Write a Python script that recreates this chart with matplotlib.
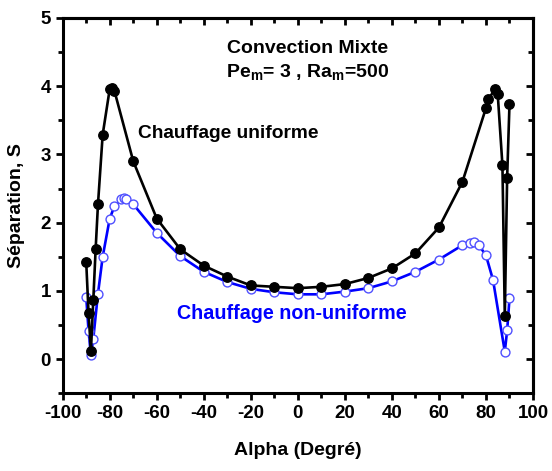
import matplotlib
matplotlib.use("Agg")
import matplotlib.pyplot as plt
from matplotlib.ticker import MultipleLocator

plt.rcParams['font.family'] = ['Liberation Sans', 'DejaVu Sans']
plt.rcParams['font.weight'] = 'bold'
plt.rcParams['axes.unicode_minus'] = False
plt.rcParams['mathtext.fontset'] = 'custom'
plt.rcParams['mathtext.rm'] = 'Liberation Sans'
plt.rcParams['mathtext.bf'] = 'Liberation Sans:bold'

# Uniform heating
alpha_u = [-90, -89, -88, -87, -86, -85, -83, -80, -79, -78, -70, -60, -50, -40,
           -30, -20, -10, 0, 10, 20, 30, 40, 50, 60, 70, 80, 81, 84, 85, 87, 88, 89, 90]
sep_u = [1.42, 0.67, 0.12, 0.86, 1.61, 2.27, 3.29, 3.96, 3.97, 3.93, 2.90, 2.06, 1.61, 1.37,
         1.21, 1.08, 1.06, 1.04, 1.06, 1.10, 1.19, 1.33, 1.55, 1.93, 2.60, 3.68, 3.81, 3.96,
         3.88, 2.84, 0.63, 2.66, 3.74]

# Non-uniform heating
alpha_n = [-90, -89, -88, -87, -85, -83, -80, -78, -75, -74, -73, -70, -60, -50, -40,
           -30, -20, -10, 0, 10, 20, 30, 40, 50, 60, 70, 73, 75, 77, 80, 83, 88, 89, 90]
sep_n = [0.91, 0.41, 0.06, 0.30, 0.96, 1.50, 2.06, 2.24, 2.35, 2.36, 2.34, 2.27, 1.85, 1.51,
         1.28, 1.13, 1.03, 0.98, 0.95, 0.95, 0.99, 1.04, 1.14, 1.28, 1.46, 1.67, 1.70, 1.71,
         1.67, 1.52, 1.16, 0.11, 0.42, 0.89]

fig = plt.figure(figsize=(5.52, 4.71), dpi=100)
ax = fig.add_axes([0.1136, 0.165, 0.852, 0.797])

ax.plot(alpha_n, sep_n, color='#0000ff', lw=1.9, marker='o', ms=6.4,
        mfc='white', mec='#5050ff', mew=1.0, zorder=3)
ax.plot(alpha_u, sep_u, color='black', lw=1.9, marker='o', ms=6.8,
        mfc='black', mec='black', zorder=4)

ax.set_xlim(-100, 100)
ax.set_ylim(-0.5, 5)
ax.xaxis.set_major_locator(MultipleLocator(20))
ax.xaxis.set_minor_locator(MultipleLocator(10))
ax.yaxis.set_major_locator(MultipleLocator(1))
ax.yaxis.set_minor_locator(MultipleLocator(0.5))

for s in ax.spines.values():
    s.set_linewidth(2.2)

ax.tick_params(which='both', direction='out', width=2.0, labelsize=13.5,
               top=False, right=False)
ax.tick_params(which='major', length=5)
ax.tick_params(which='minor', length=3.5)
for lab in ax.get_xticklabels() + ax.get_yticklabels():
    lab.set_fontweight('bold')

# inward ticks on top and right
axt = ax.secondary_xaxis('top')
axt.xaxis.set_major_locator(MultipleLocator(20))
axt.xaxis.set_minor_locator(MultipleLocator(10))
axt.tick_params(which='both', direction='in', width=2.0, labeltop=False)
axt.tick_params(which='major', length=5)
axt.tick_params(which='minor', length=3.5)
axt.spines['top'].set_linewidth(2.2)
axr = ax.secondary_yaxis('right')
axr.yaxis.set_major_locator(MultipleLocator(1))
axr.yaxis.set_minor_locator(MultipleLocator(0.5))
axr.tick_params(which='both', direction='in', width=2.0, labelright=False)
axr.tick_params(which='major', length=5)
axr.tick_params(which='minor', length=3.5)
axr.spines['right'].set_linewidth(2.2)

ax.set_xlabel('Alpha (Degré)', fontsize=14, fontweight='bold', labelpad=14)
ax.set_ylabel('Séparation, S', fontsize=14, fontweight='bold', labelpad=11)

ax.text(4, 4.55, 'Convection Mixte', fontsize=14, fontweight='bold',
        ha='center', va='center')
ax.text(4, 4.2, r'Pe$_{\mathrm{m}}$= 3 , Ra$_{\mathrm{m}}$=500', fontsize=14,
        fontweight='bold', ha='center', va='center')
ax.text(-68, 3.3, 'Chauffage uniforme', fontsize=13.8, fontweight='bold',
        ha='left', va='center', color='black')
ax.text(-51.5, 0.67, 'Chauffage non-uniforme', fontsize=14.2, fontweight='bold',
        ha='left', va='center', color='#0000ff')

fig.savefig('out.png', dpi=100)
